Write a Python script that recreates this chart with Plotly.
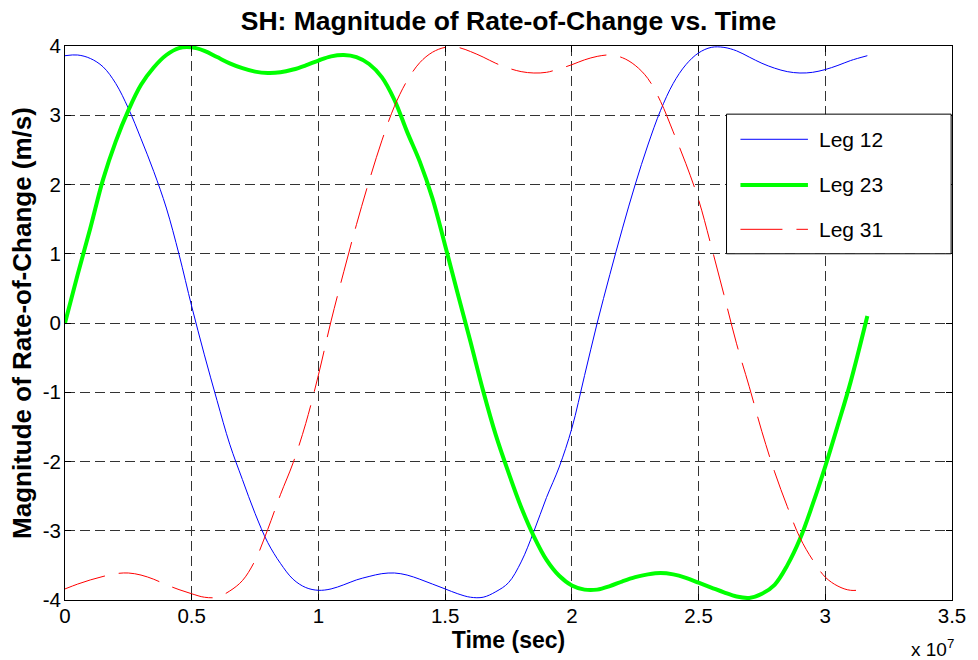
import plotly.graph_objects as go

# ---- data (time in units of 1e7 s, values in m/s) ----
t_grid = [0.00, 0.05, 0.10, 0.15, 0.20, 0.25, 0.30, 0.35, 0.40, 0.45,
          0.50, 0.55, 0.60, 0.65, 0.70, 0.75, 0.80, 0.85, 0.90, 0.95,
          1.00, 1.05, 1.10, 1.15, 1.20, 1.25, 1.30, 1.35, 1.40, 1.45,
          1.50, 1.55, 1.60, 1.65, 1.70, 1.75, 1.80, 1.85, 1.90, 1.95,
          2.00, 2.05, 2.10, 2.15, 2.20, 2.25, 2.30, 2.35, 2.40, 2.45,
          2.50, 2.55, 2.60, 2.65, 2.70, 2.75, 2.80, 2.85, 2.90, 2.95,
          3.00, 3.05, 3.10, 3.166]

v_leg12 = [3.86, 3.87, 3.82, 3.70, 3.46, 3.10, 2.66, 2.19, 1.66, 0.99,
           0.24, -0.46, -1.12, -1.75, -2.26, -2.75, -3.17, -3.47, -3.70, -3.82,
           -3.86, -3.84, -3.78, -3.71, -3.66, -3.62, -3.61, -3.64, -3.70, -3.77,
           -3.84, -3.91, -3.96, -3.96, -3.88, -3.75, -3.45, -3.01, -2.52, -2.08,
           -1.52, -0.76, 0.0, 0.70, 1.37, 2.0, 2.57, 3.07, 3.46, 3.73,
           3.90, 3.98, 3.98, 3.93, 3.84, 3.75, 3.68, 3.63, 3.61, 3.62,
           3.66, 3.72, 3.79, 3.86]

v_leg23 = [0.0, 0.70, 1.37, 2.07, 2.62, 3.07, 3.44, 3.69, 3.87, 3.97,
           3.98, 3.93, 3.84, 3.75, 3.68, 3.63, 3.61, 3.62, 3.66, 3.72,
           3.79, 3.85, 3.87, 3.84, 3.74, 3.55, 3.22, 2.76, 2.33, 1.80,
           1.12, 0.42, -0.27, -0.98, -1.62, -2.16, -2.66, -3.08, -3.42, -3.65,
           -3.79, -3.85, -3.85, -3.80, -3.73, -3.67, -3.63, -3.61, -3.63, -3.68,
           -3.75, -3.82, -3.89, -3.95, -3.97, -3.91, -3.78, -3.50, -3.12, -2.62,
           -2.07, -1.47, -0.85, 0.10]

v_leg31 = [-3.84, -3.77, -3.71, -3.66, -3.62, -3.61, -3.64, -3.70, -3.78, -3.85,
           -3.91, -3.96, -3.96, -3.87, -3.72, -3.43, -2.98, -2.48, -2.02, -1.45,
           -0.75, 0.03, 0.74, 1.42, 2.05, 2.63, 3.13, 3.50, 3.76, 3.91,
           3.98, 3.98, 3.92, 3.84, 3.75, 3.68, 3.63, 3.61, 3.62, 3.67,
           3.73, 3.80, 3.85, 3.87, 3.83, 3.72, 3.53, 3.20, 2.76, 2.30,
           1.78, 1.11, 0.41, -0.30, -0.92, -1.57, -2.15, -2.65, -3.10, -3.42,
           -3.67, -3.80, -3.86, -3.84]

x_ticks = [0, 0.5, 1, 1.5, 2, 2.5, 3, 3.5]
x_tick_labels = ["0", "0.5", "1", "1.5", "2", "2.5", "3", "3.5"]
y_ticks = [-4, -3, -2, -1, 0, 1, 2, 3, 4]
y_tick_labels = ["-4", "-3", "-2", "-1", "0", "1", "2", "3", "4"]
legend_names = ["Leg 12", "Leg 23", "Leg 31"]

SCALE = 1e7
FONT = "Liberation Sans, Arial, sans-serif"

colors = ["#0000ff", "#00ff00", "#ff0000"]
widths = [1, 4, 1]
dashes = ["solid", "solid", "42px,14px"]

fig = go.Figure()
series = [v_leg12, v_leg23, v_leg31]
for vs, name, c, w, d in zip(series, legend_names, colors, widths, dashes):
    fig.add_trace(go.Scatter(
        x=[t * SCALE for t in t_grid], y=vs, mode="lines", name=name,
        line=dict(color=c, width=w, dash=d, shape="spline", smoothing=1.0),
        showlegend=False,
    ))

# custom legend (box, sample lines, labels) in plot-area coordinates
L_X0, L_X1, L_Y0, L_Y1 = 0.7458, 0.999, 0.625, 0.877
fig.add_shape(type="rect", xref="paper", yref="paper", x0=L_X0, x1=L_X1, y0=L_Y0, y1=L_Y1,
              line=dict(color="black", width=1), fillcolor="white", layer="above")
item_y = [0.8316, 0.7491, 0.6691]
for yy, name, c, w, d in zip(item_y, legend_names, colors, widths, dashes):
    fig.add_shape(type="line", xref="paper", yref="paper", x0=0.7615, x1=0.8376, y0=yy, y1=yy,
                  line=dict(color=c, width=w, dash=d), layer="above")
    fig.add_annotation(xref="paper", yref="paper", x=0.8477, y=yy, text=name, showarrow=False,
                       xanchor="left", yanchor="middle",
                       font=dict(family=FONT, size=21, color="black"))

fig.add_annotation(xref="paper", yref="paper", x=1.005, y=-0.086, text="x 10<sup>7</sup>",
                   showarrow=False, xanchor="right", yanchor="middle",
                   font=dict(family=FONT, size=19, color="black"))

axis_common = dict(
    showline=True, linecolor="black", linewidth=1, mirror="ticks",
    ticks="inside", ticklen=6, tickcolor="black", tickwidth=1,
    showgrid=True, gridcolor="#333333", gridwidth=1, griddash="10px,5px",
    zeroline=False, tickfont=dict(family=FONT, size=20.5, color="black"),
)

fig.update_layout(
    width=978, height=660,
    margin=dict(l=65, r=20, t=46, b=60),
    paper_bgcolor="white", plot_bgcolor="white",
    title=dict(text="<b>SH: Magnitude of Rate-of-Change vs. Time</b>", x=0.5, xref="paper",
               y=0.969, yref="container", xanchor="center", yanchor="middle",
               font=dict(family=FONT, size=26.5, color="black")),
    xaxis=dict(range=[0, 3.5 * SCALE], tickvals=[v * SCALE for v in x_ticks],
               ticktext=x_tick_labels, ticklabelstandoff=-3,
               title=dict(text="<b>Time (sec)</b>", standoff=0,
                          font=dict(family=FONT, size=23, color="black")),
               **axis_common),
    yaxis=dict(range=[-4, 4], tickvals=y_ticks, ticktext=y_tick_labels,
               ticklabelstandoff=-1,
               title=dict(text="<b>Magnitude of Rate-of-Change (m/s)</b>", standoff=3,
                          font=dict(family=FONT, size=26, color="black")),
               **axis_common),
)

fig.write_html("out.html")
